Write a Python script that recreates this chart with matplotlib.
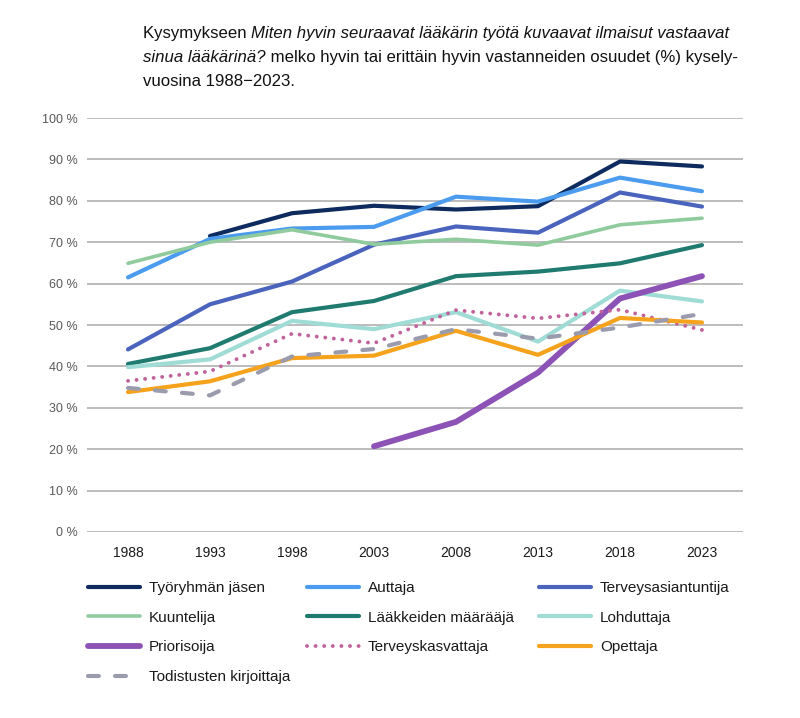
import matplotlib
matplotlib.use("Agg")
import matplotlib.pyplot as plt
import numpy as np

plt.rcParams['font.family'] = ['Liberation Sans', 'DejaVu Sans']

years = ["1988", "1993", "1998", "2003", "2008", "2013", "2018", "2023"]
N = np.nan

tyoryhman_jasen = [N, 71.5, 77.0, 78.8, 77.9, 78.7, 89.5, 88.3]
auttaja = [61.5, 70.8, 73.3, 73.7, 81.0, 79.8, 85.6, 82.3]
terveysasiantuntija = [44.1, 55.0, 60.5, 69.4, 73.8, 72.3, 82.0, 78.6]
kuuntelija = [64.9, 70.0, 73.0, 69.5, 70.7, 69.3, 74.2, 75.8]
laakkeiden_maaraaja = [40.6, 44.4, 53.1, 55.8, 61.8, 62.9, 64.9, 69.3]
lohduttaja = [39.8, 41.7, 51.0, 49.0, 53.1, 46.0, 58.3, 55.7]
priorisoija = [N, N, N, 20.7, 26.6, 38.5, 56.4, 61.8]
terveyskasvattaja = [36.5, 38.8, 47.9, 45.6, 53.6, 51.6, 53.7, 48.8]
opettaja = [33.8, 36.4, 42.0, 42.6, 48.6, 42.8, 51.7, 50.6]
todistusten_kirjoittaja = [34.8, 33.0, 42.4, 44.2, 49.0, 46.7, 49.4, 52.7]

series = [
    ("Työryhmän jäsen", tyoryhman_jasen, "#0d2b5e", "-", 3.0),
    ("Auttaja", auttaja, "#4b9cee", "-", 3.0),
    ("Terveysasiantuntija", terveysasiantuntija, "#4a64bd", "-", 3.0),
    ("Kuuntelija", kuuntelija, "#8fcb9d", "-", 2.6),
    ("Lääkkeiden määrääjä", laakkeiden_maaraaja, "#1f7a70", "-", 3.0),
    ("Lohduttaja", lohduttaja, "#a0dcd6", "-", 3.0),
    ("Priorisoija", priorisoija, "#8c52b5", "-", 4.2),
    ("Terveyskasvattaja", terveyskasvattaja, "#c2629c", ":", 2.8),
    ("Opettaja", opettaja, "#f5a31d", "-", 3.0),
    ("Todistusten kirjoittaja", todistusten_kirjoittaja, "#9a9cae", "--", 3.0),
]

fig = plt.figure(figsize=(8.0, 7.18), dpi=100)
W, H = 800, 718
ax = fig.add_axes([87 / W, 1 - 532 / H, (743 - 87) / W, (532 - 118) / H])

x = np.arange(len(years))
handles = {}
for name, vals, col, ls, lw in series:
    kw = dict(color=col, lw=lw, solid_capstyle='round', dash_capstyle='round')
    if ls == ":":
        kw.update(linestyle=(0, (0.01, 2.2)))
    elif ls == "--":
        kw.update(linestyle=(0, (2.6, 3.9)))
    line, = ax.plot(x, vals, **kw)
    handles[name] = line

ax.set_xlim(-0.5, len(years) - 0.5)
ax.set_ylim(0, 100)
ax.set_yticks(np.arange(0, 101, 10))
ax.set_yticklabels([f"{v} %" for v in range(0, 101, 10)])
ax.set_xticks(x)
ax.set_xticklabels(years)
for s in ax.spines.values():
    s.set_visible(False)
ax.grid(axis='y', color='#b0b0b0', lw=1.2)
ax.set_axisbelow(True)
ax.tick_params(axis='y', length=0, pad=7, labelsize=9, labelcolor='#595959')
ax.tick_params(axis='x', length=0, pad=10, labelsize=10, labelcolor='#1a1a1a')

# Legend, three columns
cols = [
    ["Työryhmän jäsen", "Kuuntelija", "Priorisoija", "Todistusten kirjoittaja"],
    ["Auttaja", "Lääkkeiden määrääjä", "Terveyskasvattaja"],
    ["Terveysasiantuntija", "Lohduttaja", "Opettaja"],
]
col_x = [88, 307, 539]
for cx, names in zip(col_x, cols):
    leg = fig.legend([handles[n] for n in names], names,
                     loc='upper left', bbox_to_anchor=(cx / W, 1 - 581 / H),
                     frameon=False, fontsize=11, handlelength=3.4,
                     handletextpad=0.6, labelspacing=1.03, borderaxespad=0,
                     borderpad=0)
    for t in leg.get_texts():
        t.set_color('#1a1a1a')

# Title with mixed italics
fs = 12.1
tx0 = 143 / W
lines = [
    [("Kysymykseen ", 'normal'), ("Miten hyvin seuraavat lääkärin työtä kuvaavat ilmaisut vastaavat", 'italic')],
    [("sinua lääkärinä?", 'italic'), (" melko hyvin tai erittäin hyvin vastanneiden osuudet (%) kysely-", 'normal')],
    [("vuosina 1988\u22122023.", 'normal')],
]
base_y = [38, 62, 86]
renderer = fig.canvas.get_renderer()
for segs, by in zip(lines, base_y):
    cx = tx0
    for txt, style in segs:
        t = fig.text(cx, 1 - by / H, txt, fontsize=fs, style=style,
                     color='#111111', va='baseline', ha='left')
        bb = t.get_window_extent(renderer=renderer)
        cx = bb.x1 / W

fig.savefig("out.png", dpi=100)
